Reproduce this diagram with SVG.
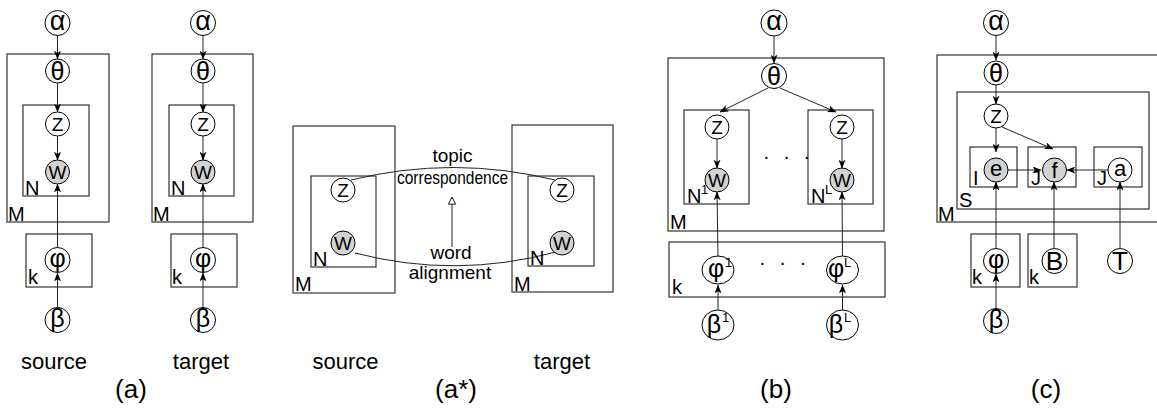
<svg xmlns="http://www.w3.org/2000/svg" width="1157" height="412" viewBox="0 0 1157 412">
<defs>
<marker id="ah" viewBox="0 0 10 8" refX="9.5" refY="4" markerWidth="9" markerHeight="7" markerUnits="userSpaceOnUse" orient="auto">
<path d="M0,0 L10,4 L0,8 L2.5,4 z" fill="#000"/>
</marker>
<marker id="tri" viewBox="0 0 10 10" refX="9" refY="5" markerWidth="9" markerHeight="9" markerUnits="userSpaceOnUse" orient="auto">
<path d="M1,1 L9,5 L1,9 z" fill="#fff" stroke="#000" stroke-width="1"/>
</marker>
<style>
.box{fill:none;stroke:#333;stroke-width:1.2}
.nd{fill:#fff;stroke:#000;stroke-width:1}
.obs{fill:#d3d3d3;stroke:#000;stroke-width:1}
.e{fill:none;stroke:#222;stroke-width:1;marker-end:url(#ah)}
.c{fill:none;stroke:#222;stroke-width:1}
text{font-family:"Liberation Sans",Arial,sans-serif;fill:#000}
.al{font-size:27px;text-anchor:middle}
.th{font-size:25px;text-anchor:middle}
.g{font-size:25px;text-anchor:middle}
.l{font-size:19px;text-anchor:middle}
.lw{font-size:22px;text-anchor:middle}
.lc{font-size:26px;text-anchor:middle}
.lb{font-size:20px}
.sup{font-size:13px}
.cap{font-size:22px;text-anchor:middle}
.fig{font-size:26px;text-anchor:middle}
.ann{font-size:19px;text-anchor:middle}
</style>
</defs>

<!-- plates -->
<g id="plates">
<rect class="box" x="7" y="54" width="102" height="168"/>
<rect class="box" x="23" y="105" width="66" height="91"/>
<rect class="box" x="26" y="234" width="66" height="53"/>
<rect class="box" x="152" y="54" width="101" height="168"/>
<rect class="box" x="169" y="105" width="65" height="91"/>
<rect class="box" x="171" y="234" width="66" height="53"/>
<rect class="box" x="293" y="126" width="102" height="167"/>
<rect class="box" x="311" y="176" width="65" height="91"/>
<rect class="box" x="512" y="125" width="101" height="167"/>
<rect class="box" x="528" y="176" width="66" height="90"/>
<rect class="box" x="668" y="58" width="216" height="173"/>
<rect class="box" x="684" y="110" width="65" height="94"/>
<rect class="box" x="808" y="110" width="65" height="94"/>
<rect class="box" x="669" y="242" width="216" height="55"/>
<rect class="box" x="937" y="55" width="240" height="167"/>
<rect class="box" x="957" y="92" width="192" height="117"/>
<rect class="box" x="970" y="147" width="47" height="40"/>
<rect class="box" x="1028" y="147" width="48" height="40"/>
<rect class="box" x="1094" y="147" width="48" height="40"/>
<rect class="box" x="971" y="234" width="49" height="53"/>
<rect class="box" x="1028" y="234" width="49" height="53"/>
</g>

<!-- connectors -->
<g id="connectors">
<line class="e" x1="57.5" y1="35" x2="57.5" y2="59"/>
<line class="e" x1="57.5" y1="83" x2="57.5" y2="112"/>
<line class="e" x1="57.5" y1="136" x2="57.5" y2="160"/>
<line class="e" x1="57.5" y1="248" x2="57.5" y2="184"/>
<line class="e" x1="57.5" y1="308" x2="57.5" y2="273"/>

<line class="e" x1="203" y1="35" x2="203" y2="59"/>
<line class="e" x1="203" y1="83" x2="203" y2="112"/>
<line class="e" x1="203" y1="136" x2="203" y2="160"/>
<line class="e" x1="203" y1="248" x2="203" y2="184"/>
<line class="e" x1="203" y1="308" x2="203" y2="273"/>

<path class="c" d="M351,180 Q453,155 555,180"/>
<path class="c" d="M355,253 Q455,279 556,252"/>
<line class="c" x1="452" y1="247" x2="452" y2="197" marker-end="url(#tri)"/>

<line class="e" x1="774" y1="36" x2="774" y2="63"/>
<line class="e" x1="768" y1="88" x2="720" y2="112"/>
<line class="e" x1="780" y1="88" x2="836" y2="112"/>
<line class="e" x1="717" y1="139" x2="717" y2="168"/>
<line class="e" x1="842" y1="139" x2="842" y2="168"/>
<line class="e" x1="718" y1="256" x2="717" y2="192"/>
<line class="e" x1="842.5" y1="256" x2="842" y2="192"/>
<line class="e" x1="718" y1="310" x2="718" y2="285"/>
<line class="e" x1="842.5" y1="310" x2="842.5" y2="285"/>

<line class="e" x1="996" y1="35" x2="996" y2="60"/>
<line class="e" x1="996" y1="85" x2="996" y2="104"/>
<line class="e" x1="996" y1="128" x2="996" y2="152"/>
<line class="e" x1="1002" y1="127" x2="1053" y2="149"/>
<line class="e" x1="1008" y1="170" x2="1041" y2="170"/>
<line class="e" x1="1108" y1="170" x2="1067" y2="170"/>
<line class="e" x1="996" y1="249" x2="996" y2="182"/>
<line class="e" x1="1054" y1="248" x2="1054" y2="182"/>
<line class="e" x1="1120" y1="248" x2="1120" y2="182"/>
<line class="e" x1="996" y1="309" x2="996" y2="274"/>
</g>

<!-- panel (a) source -->
<g id="a-src-alpha"><circle class="nd" cx="57.5" cy="23" r="12.5"/><text class="al" x="57.5" y="30">α</text></g>
<g id="a-src-theta"><circle class="nd" cx="57.5" cy="71" r="12"/><text class="th" x="57.5" y="80">θ</text></g>
<g id="a-src-z"><circle class="nd" cx="57.5" cy="124" r="12"/><text class="l" x="57.5" y="131">Z</text></g>
<g id="a-src-w"><circle class="obs" cx="57.5" cy="172" r="12"/><text class="l" x="57.5" y="179">W</text></g>
<g id="a-src-phi"><circle class="nd" cx="57.5" cy="260" r="12.5"/><text class="g" x="57.5" y="267">φ</text></g>
<g id="a-src-beta"><circle class="nd" cx="57.5" cy="320" r="12.5"/><text class="g" x="57.5" y="327">β</text></g>

<!-- panel (a) target -->
<g id="a-tgt-alpha"><circle class="nd" cx="203" cy="23" r="12.5"/><text class="al" x="203" y="30">α</text></g>
<g id="a-tgt-theta"><circle class="nd" cx="203" cy="71" r="12"/><text class="th" x="203" y="80">θ</text></g>
<g id="a-tgt-z"><circle class="nd" cx="203" cy="124" r="12"/><text class="l" x="203" y="131">Z</text></g>
<g id="a-tgt-w"><circle class="obs" cx="203" cy="172" r="12"/><text class="l" x="203" y="179">W</text></g>
<g id="a-tgt-phi"><circle class="nd" cx="203" cy="260" r="12.5"/><text class="g" x="203" y="267">φ</text></g>
<g id="a-tgt-beta"><circle class="nd" cx="203" cy="320" r="12.5"/><text class="g" x="203" y="327">β</text></g>

<!-- panel (a*) -->
<g id="as-src-z"><circle class="nd" cx="343" cy="190" r="12"/><text class="l" x="343" y="197">Z</text></g>
<g id="as-src-w"><circle class="obs" cx="343" cy="243" r="12"/><text class="l" x="343" y="250">W</text></g>
<g id="as-tgt-z"><circle class="nd" cx="562" cy="190" r="12"/><text class="l" x="562" y="197">Z</text></g>
<g id="as-tgt-w"><circle class="obs" cx="562" cy="243" r="12"/><text class="l" x="562" y="250">W</text></g>

<!-- panel (b) -->
<g id="b-alpha"><circle class="nd" cx="774" cy="23" r="13"/><text class="al" x="774" y="30">α</text></g>
<g id="b-theta"><circle class="nd" cx="774" cy="76" r="12.5"/><text class="th" x="774" y="85">θ</text></g>
<g id="b-z1"><circle class="nd" cx="717" cy="127" r="12"/><text class="l" x="717" y="134">Z</text></g>
<g id="b-w1"><circle class="obs" cx="717" cy="180" r="12"/><text class="l" x="717" y="187">W</text></g>
<g id="b-zl"><circle class="nd" cx="842" cy="127" r="12"/><text class="l" x="842" y="134">Z</text></g>
<g id="b-wl"><circle class="obs" cx="842" cy="180" r="12"/><text class="l" x="842" y="187">W</text></g>
<g id="b-phi1"><ellipse class="nd" cx="718" cy="270" rx="16" ry="14"/><text class="g" x="716" y="277">φ</text><text class="sup" x="725" y="267">1</text></g>
<g id="b-phil"><ellipse class="nd" cx="842.5" cy="270" rx="16" ry="14"/><text class="g" x="836" y="277">φ</text><text class="sup" x="844" y="267">L</text></g>
<g id="b-beta1"><ellipse class="nd" cx="718" cy="325" rx="16" ry="15"/><text class="g" x="714" y="333">β</text><text class="sup" x="722" y="322">1</text></g>
<g id="b-betal"><ellipse class="nd" cx="842.5" cy="325" rx="16" ry="15"/><text class="g" x="836" y="333">β</text><text class="sup" x="844" y="322">L</text></g>

<!-- panel (c) -->
<g id="c-alpha"><circle class="nd" cx="996" cy="23" r="12.5"/><text class="al" x="996" y="30">α</text></g>
<g id="c-theta"><circle class="nd" cx="996" cy="73" r="12"/><text class="th" x="996" y="82">θ</text></g>
<g id="c-z"><circle class="nd" cx="996" cy="116" r="12"/><text class="l" x="996" y="123">Z</text></g>
<g id="c-e"><circle class="obs" cx="996" cy="170" r="12"/><text class="lw" x="996" y="176">e</text></g>
<g id="c-f"><circle class="obs" cx="1054.5" cy="170" r="12"/><text class="lw" x="1054.5" y="178">f</text></g>
<g id="c-a"><circle class="nd" cx="1120" cy="170" r="12"/><text class="lw" x="1120" y="176">a</text></g>
<g id="c-phi"><circle class="nd" cx="996" cy="261" r="12.5"/><text class="g" x="996" y="268">φ</text></g>
<g id="c-b"><circle class="nd" cx="1054.5" cy="261" r="12.5"/><text class="lc" x="1054.5" y="270">B</text></g>
<g id="c-t"><circle class="nd" cx="1120" cy="261" r="12.5"/><text class="lc" x="1120" y="270">T</text></g>
<g id="c-beta"><circle class="nd" cx="996" cy="321" r="12.5"/><text class="g" x="996" y="328">β</text></g>

<!-- plate labels -->
<g id="labels">
<text class="lb" x="25" y="195">N</text>
<text class="lb" x="8" y="221">M</text>
<text class="lb" x="28" y="284">k</text>
<text class="lb" x="171" y="195">N</text>
<text class="lb" x="153" y="221">M</text>
<text class="lb" x="172" y="284">k</text>
<text class="lb" x="313" y="266">N</text>
<text class="lb" x="295" y="291">M</text>
<text class="lb" x="530" y="265">N</text>
<text class="lb" x="514" y="291">M</text>
<text class="lb" x="687" y="203">N</text><text class="sup" x="701" y="194">1</text>
<text class="lb" x="811" y="203">N</text><text class="sup" x="825" y="194">L</text>
<text class="lb" x="670" y="229">M</text>
<text class="lb" x="672" y="294">k</text>
<text class="lb" x="973" y="185">I</text>
<text class="lb" x="1031" y="185">J</text>
<text class="lb" x="1097" y="185">J</text>
<text class="lb" x="959" y="207">S</text>
<text class="lb" x="938" y="221">M</text>
<text class="lb" x="972" y="284">k</text>
<text class="lb" x="1029" y="284">k</text>
<text class="lb" x="763" y="163" letter-spacing="4">· · ·</text>
<text class="lb" x="759" y="269" letter-spacing="4">· · ·</text>
</g>

<!-- annotations -->
<g id="annotations">
<text class="ann" x="452.5" y="162">topic</text>
<text class="ann" x="452.5" y="184" textLength="111" lengthAdjust="spacingAndGlyphs">correspondence</text>
<text class="ann" x="451" y="259">word</text>
<text class="ann" x="450" y="279">alignment</text>
<text class="cap" x="54" y="369">source</text>
<text class="cap" x="201" y="369">target</text>
<text class="cap" x="345.5" y="369">source</text>
<text class="cap" x="562" y="369">target</text>
<text class="fig" x="131" y="398">(a)</text>
<text class="fig" x="456" y="398">(a*)</text>
<text class="fig" x="776" y="398">(b)</text>
<text class="fig" x="1046" y="398">(c)</text>
</g>
</svg>
